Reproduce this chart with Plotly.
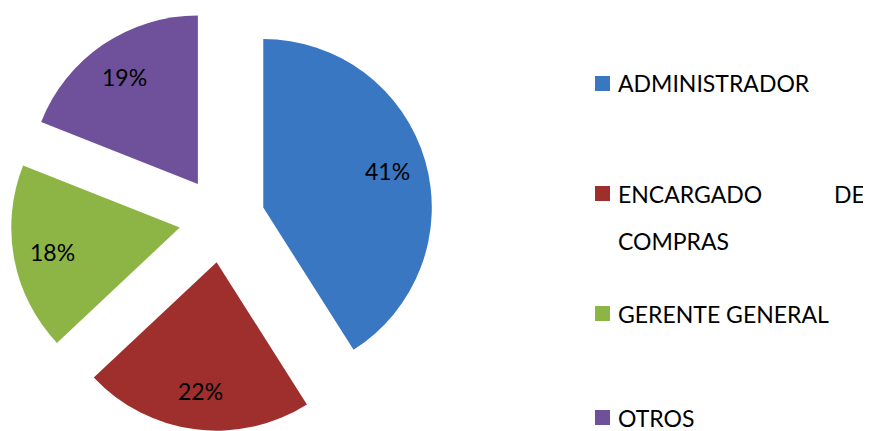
import math
import plotly.graph_objects as go

labels = ["ADMINISTRADOR", "ENCARGADO DE COMPRAS", "GERENTE GENERAL", "OTROS"]
values = [41, 22, 18, 19]
colors = ["#3a77c2", "#9e2f2c", "#8db546", "#6f509b"]

OFF = 8            # page body margin of the html page
W, H = 871 - OFF, 431 - OFF
FONT = "Lato"
FS = 23
PULL = 0.255


def px(x):
    return (x - OFF) / W


def py(y):
    return 1 - (y - OFF) / H


# pie domain (in page pixels)
cx, cy = 222, 219.5
half = H / 2
dom_x = [px(cx - half), px(cx + half)]
dom_y = [0, 1]
R = half / (1 + PULL)

fig = go.Figure()
fig.add_trace(go.Pie(
    labels=labels,
    values=values,
    sort=False,
    direction="clockwise",
    rotation=0,
    pull=[PULL] * len(values),
    marker=dict(colors=colors, line=dict(width=0)),
    textinfo="none",
    domain=dict(x=dom_x, y=dom_y),
    showlegend=False,
    hoverinfo="label+percent",
))

annotations = []
# percentage labels placed along each slice's mid angle (Excel "best fit" style)
total = sum(values)
cum = 0
for v in values:
    mid = (cum + v / 2) / total * 2 * math.pi
    cum += v
    d = R * PULL + R * 0.77
    x = cx + d * math.sin(mid)
    y = cy - d * math.cos(mid)
    annotations.append(dict(
        text=f"{round(v / total * 100)}%", x=px(x), y=py(y), xref="paper", yref="paper",
        xanchor="center", yanchor="middle", showarrow=False,
        font=dict(family=FONT, size=FS, color="black")))

# custom legend (rows: label lines and their vertical centers in px)
legend_rows = [
    (0, [(["ADMINISTRADOR"], 83.5)]),
    (1, [(["ENCARGADO", "DE"], 193.5), (["COMPRAS"], 241)]),
    (2, [(["GERENTE GENERAL"], 313.5)]),
    (3, [(["OTROS"], 417.5)]),
]
text_x = 616
text_right = 867
shapes = []
for idx, lines in legend_rows:
    first_y = lines[0][1]
    shapes.append(dict(
        type="rect", xref="paper", yref="paper",
        x0=px(595), x1=px(610),
        y0=py(first_y + 7.5), y1=py(first_y - 7.5),
        fillcolor=colors[idx], line=dict(width=0),
    ))
    for words, yc in lines:
        annotations.append(dict(
            text=words[0], x=px(text_x), y=py(yc), xref="paper", yref="paper",
            xanchor="left", yanchor="middle", showarrow=False,
            font=dict(family=FONT, size=FS, color="black")))
        if len(words) == 2:
            annotations.append(dict(
                text=words[1], x=px(text_right), y=py(yc), xref="paper", yref="paper",
                xanchor="right", yanchor="middle", showarrow=False,
                font=dict(family=FONT, size=FS, color="black")))

fig.update_layout(
    width=W, height=H,
    margin=dict(l=0, r=0, t=0, b=0),
    paper_bgcolor="white",
    plot_bgcolor="white",
    shapes=shapes,
    annotations=annotations,
)

fig.write_html("out.html")
